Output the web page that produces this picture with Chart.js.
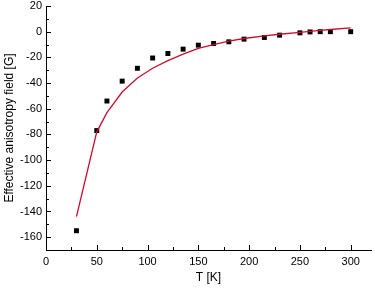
<!DOCTYPE html>
<html>
<head>
<meta charset="utf-8">
<script src="https://cdn.jsdelivr.net/npm/chart.js@4/dist/chart.umd.min.js"></script>
<style>
    html, body { margin: 0; padding: 0; background: #fff; }
    #wrap { width: 375px; height: 289px; }
</style>
</head>
<body>
<div id="wrap"><canvas id="chart" width="375" height="289"></canvas></div>
<script>
    // measured points
    var tempK = [30, 50, 60, 75, 90, 105, 120, 135, 150, 165, 180, 195, 215, 230, 250, 260, 270, 280, 300];
    var fieldG = [-155, -77, -54, -38.5, -28.5, -20.5, -17, -13.6, -10.5, -9.2, -7.9, -5.8, -4.5, -2.7, -0.9, -0.2, 0, 0, 0];

    // fitted curve
    var fitT = [30, 50, 60, 75, 90, 105, 120, 135, 150, 165, 180, 195, 215, 230, 250, 260, 270, 280, 300];
    var fitG = [-144, -78, -63, -47, -36, -28.5, -22.5, -17.5, -13, -10, -7.3, -5.3, -3.3, -2, -0.5, 0.3, 1, 1.7, 3];

    var xTicks = [0, 50, 100, 150, 200, 250, 300];
    var yTicks = [20, 0, -20, -40, -60, -80, -100, -120, -140, -160];

    function toXY(xs, ys) {
        return xs.map(function (x, i) { return {x: x, y: ys[i]}; });
    }

    // tick marks pointing into the plot
    var innerTicks = {
        id: 'innerTicks',
        afterDraw: function (chart) {
            var ctx = chart.ctx;
            var x = chart.scales.x, y = chart.scales.y;
            var area = chart.chartArea;
            ctx.save();
            ctx.strokeStyle = '#000';
            ctx.lineWidth = 1;
            ctx.beginPath();
            x.ticks.forEach(function (t) {
                var px = Math.round(x.getPixelForValue(t.value)) + 0.5;
                var len = t.value % 50 === 0 ? 5 : 3;
                ctx.moveTo(px, area.bottom);
                ctx.lineTo(px, area.bottom - len);
            });
            y.ticks.forEach(function (t) {
                var py = Math.round(y.getPixelForValue(t.value)) + 0.5;
                var len = t.value % 20 === 0 ? 5 : 3;
                ctx.moveTo(area.left, py);
                ctx.lineTo(area.left + len, py);
            });
            ctx.stroke();
            ctx.restore();
        }
    };

    Chart.defaults.font.family = '"Liberation Sans", Arial, sans-serif';
    Chart.defaults.color = '#000';

    new Chart(document.getElementById('chart').getContext('2d'), {
        type: 'scatter',
        data: {
            datasets: [{
                type: 'line',
                label: 'fit',
                data: toXY(fitT, fitG),
                borderColor: '#c8102e',
                borderWidth: 1.3,
                pointRadius: 0,
                tension: 0,
                fill: false,
                order: 0
            }, {
                label: 'data',
                data: toXY(tempK, fieldG),
                pointStyle: 'rect',
                pointRadius: 3.5,
                backgroundColor: '#000',
                borderColor: '#000',
                borderWidth: 0,
                order: 1
            }]
        },
        options: {
            responsive: false,
            animation: false,
            layout: { padding: { top: 6, right: 0, left: 2, bottom: 0 } },
            plugins: { legend: { display: false }, tooltip: { enabled: false } },
            scales: {
                x: {
                    type: 'linear',
                    min: 0,
                    max: 320,
                    afterFit: function (s) { s.height = 39; },
                    grid: { drawOnChartArea: false, drawTicks: false },
                    border: { color: '#000', width: 1 },
                    ticks: {
                        stepSize: 25,
                        includeBounds: false,
                        padding: 5,
                        maxRotation: 0,
                        autoSkip: false,
                        font: { size: 11 },
                        callback: function (v) { return xTicks.indexOf(v) >= 0 ? String(v) : ''; }
                    },
                    title: { display: true, text: 'T [K]', font: { size: 12 }, padding: { top: 2, bottom: 4 } }
                },
                y: {
                    type: 'linear',
                    min: -170,
                    max: 20,
                    afterFit: function (s) { s.width = 44; s.paddingTop = 0; },
                    grid: { drawOnChartArea: false, drawTicks: false },
                    border: { color: '#000', width: 1 },
                    ticks: {
                        stepSize: 10,
                        padding: 4,
                        autoSkip: false,
                        font: { size: 11 },
                        callback: function (v) { return yTicks.indexOf(v) >= 0 ? String(v) : ''; }
                    },
                    title: { display: true, text: 'Effective anisotropy field [G]', font: { size: 12 }, padding: { top: 0, bottom: 2 } }
                }
            }
        },
        plugins: [innerTicks]
    });
</script>
</body>
</html>
